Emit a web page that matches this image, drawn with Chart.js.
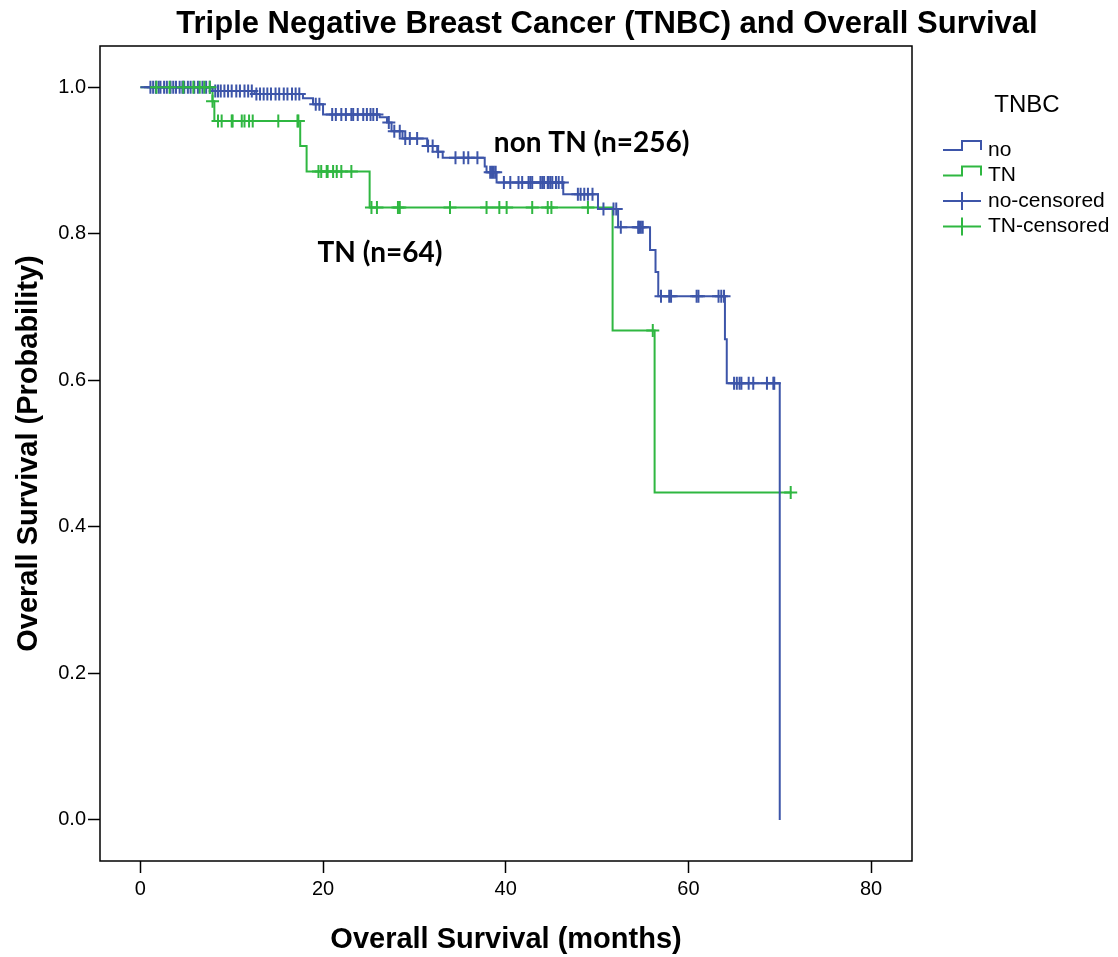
<!DOCTYPE html>
<html lang="en">
<head>
    <meta charset="UTF-8">
    <title>TNBC and Overall Survival</title>
    <script src="https://cdn.jsdelivr.net/npm/chart.js@4.4.1/dist/chart.umd.min.js"></script>
    <style>
        body{
            margin: 0;
            background: #fff;
        }
        #wrap{
            position: relative;
            width: 1118px;
            height: 957px;
        }
    </style>
</head>
<body>
<div id="wrap"><canvas id="kmChart"></canvas></div>
<script>
    // Kaplan-Meier steps: time of event (months) and survival after it
    var nonTnTime = [0, 7.9, 12.5, 17.8, 18.9, 20.0, 26.2, 27.0, 27.5, 28.7, 31.4, 32.5, 33.1, 37.7, 37.9, 39.0, 46.3, 50.1, 52.3, 55.8, 56.4, 56.7, 64.0, 64.2, 70.0];
    var nonTnSurv = [1.0, 0.995, 0.991, 0.985, 0.977, 0.963, 0.959, 0.952, 0.940, 0.930, 0.920, 0.912, 0.904, 0.892, 0.884, 0.870, 0.854, 0.834, 0.809, 0.778, 0.748, 0.715, 0.656, 0.596, 0.0];

    var tnTime = [0, 7.9, 8.1, 17.5, 18.2, 25.1, 51.7, 56.3, 71.3];
    var tnSurv = [1.0, 0.981, 0.954, 0.920, 0.885, 0.836, 0.668, 0.447, 0.447];

    // censored follow-up times (months)
    var nonTnCensored = [1.1, 1.4, 1.7, 2.0, 2.2, 2.6, 2.9, 3.3, 3.6, 3.9, 4.3, 4.6, 4.8, 5.2, 5.5, 5.9, 6.3, 6.8, 7.2, 7.6,
        8.2, 8.5, 8.8, 9.2, 9.6, 10.0, 10.5, 10.9, 11.4, 11.8, 12.2,
        12.7, 13.1, 13.5, 13.9, 14.3, 14.8, 15.2, 15.7, 16.1, 16.6, 17.0, 17.4,
        19.2, 19.6,
        21.0, 21.4, 22.0, 22.5, 23.1, 23.3, 23.8, 24.4, 24.8, 25.2, 25.5, 25.9,
        27.2, 27.8, 28.4, 29.0, 29.5, 30.3, 31.5, 32.0, 32.6,
        34.5, 35.4, 35.9, 36.9, 38.3, 38.5, 38.7, 38.9,
        39.8, 40.5, 41.4, 41.8, 42.5, 42.7, 42.9, 43.8, 44.0, 44.2, 44.6, 44.7, 44.9, 45.1, 45.5, 45.8, 46.2,
        47.9, 48.2, 48.6, 49.0, 49.5, 50.7, 51.8, 52.1,
        52.6, 54.5, 54.6, 54.8, 55.0,
        57.0, 57.9, 58.1, 60.9, 61.1, 63.3, 63.6, 63.9,
        65.0, 65.3, 65.6, 65.8, 66.6, 67.1, 68.6, 69.3, 69.4];
    var tnCensored = [1.75, 3.2, 4.7, 5.8, 6.5, 7.0, 7.6, 7.9,
        8.5, 8.9, 10.0, 10.1, 11.1, 11.4, 11.9, 12.3, 15.1, 17.2, 17.3,
        19.5, 19.8, 20.4, 20.5, 21.1, 21.5, 22.0, 23.1,
        25.3, 25.9, 28.2, 28.4, 33.9, 37.9, 39.3, 40.1, 42.9, 44.6, 45.0, 49.0,
        56.1, 71.2];

    var xTicks = [0, 20, 40, 60, 80];
    var yTicks = [0.0, 0.2, 0.4, 0.6, 0.8, 1.0];

    var blue = '#3d55a9';
    var green = '#2fb741';
    var fontFamily = "Arial, 'Liberation Sans', sans-serif";

    function toPoints(times, surv) {
        return times.map(function(t, i) { return {x: t, y: surv[i]}; });
    }

    // survival value of a curve at time t
    function survAt(times, surv, t) {
        var s = surv[0];
        for (var i = 0; i < times.length; i++) {
            if (times[i] <= t) s = surv[i];
        }
        return s;
    }

    function censorPoints(list, times, surv) {
        return list.map(function(t) { return {x: t, y: survAt(times, surv, t)}; });
    }

    // black box round the plot area
    var frame = {
        id: 'frame',
        afterDraw: function(chart) {
            var a = chart.chartArea, ctx = chart.ctx;
            ctx.save();
            ctx.strokeStyle = '#000';
            ctx.lineWidth = 1.5;
            ctx.strokeRect(a.left, a.top, a.right - a.left, a.bottom - a.top);
            ctx.restore();
        }
    };

    var heading = {
        id: 'heading',
        afterDraw: function(chart) {
            var ctx = chart.ctx;
            ctx.save();
            ctx.fillStyle = '#000';
            ctx.font = 'bold 31px ' + fontFamily;
            ctx.textAlign = 'center';
            ctx.textBaseline = 'middle';
            ctx.fillText('Triple Negative Breast Cancer (TNBC) and Overall Survival', 607, 24);
            ctx.restore();
        }
    };

    // group labels placed in data coordinates
    var groupLabels = {
        id: 'groupLabels',
        afterDraw: function(chart) {
            var ctx = chart.ctx, xs = chart.scales.x, ys = chart.scales.y;
            var items = [
                {text: 'non TN (n=256)', x: 38.7, y: 0.924},
                {text: 'TN (n=64)', x: 19.4, y: 0.774}
            ];
            ctx.save();
            ctx.fillStyle = '#000';
            ctx.font = "bold 28px Lato, 'Open Sans', sans-serif";
            ctx.textBaseline = 'middle';
            items.forEach(function(it) {
                ctx.fillText(it.text, xs.getPixelForValue(it.x), ys.getPixelForValue(it.y));
            });
            ctx.restore();
        }
    };

    var sideLegend = {
        id: 'sideLegend',
        afterDraw: function(chart) {
            var ctx = chart.ctx;
            var left = 943, textX = 988, rowY = 150, step = 25.5;
            ctx.save();
            ctx.fillStyle = '#000';
            ctx.font = '24px ' + fontFamily;
            ctx.textAlign = 'center';
            ctx.textBaseline = 'middle';
            ctx.fillText('TNBC', 1027, 105);
            ctx.font = '21px ' + fontFamily;
            ctx.textAlign = 'left';
            chart.data.datasets.forEach(function(ds, i) {
                var y = rowY + i * step;
                ctx.strokeStyle = ds.borderColor;
                ctx.lineWidth = 2;
                ctx.beginPath();
                if (ds.showLine) {
                    ctx.moveTo(left, y);
                    ctx.lineTo(left + 19, y);
                    ctx.lineTo(left + 19, y - 9);
                    ctx.lineTo(left + 38, y - 9);
                    ctx.lineTo(left + 38, y);
                } else {
                    ctx.moveTo(left, y);
                    ctx.lineTo(left + 38, y);
                    ctx.moveTo(left + 19, y - 9);
                    ctx.lineTo(left + 19, y + 9);
                }
                ctx.stroke();
                ctx.fillStyle = '#000';
                ctx.fillText(ds.label, textX, y);
            });
            ctx.restore();
        }
    };

    var ctx = document.getElementById('kmChart').getContext('2d');
    var myChart = new Chart(ctx, {
        type: 'scatter',
        data: {
            datasets: [{
                label: 'no',
                data: toPoints(nonTnTime, nonTnSurv),
                showLine: true,
                stepped: 'before',
                borderColor: blue,
                borderWidth: 2,
                pointRadius: 0,
                order: 2
            }, {
                label: 'TN',
                data: toPoints(tnTime, tnSurv),
                showLine: true,
                stepped: 'before',
                borderColor: green,
                borderWidth: 2,
                pointRadius: 0,
                order: 3
            }, {
                label: 'no-censored',
                data: censorPoints(nonTnCensored, nonTnTime, nonTnSurv),
                showLine: false,
                borderColor: blue,
                pointStyle: 'cross',
                pointRadius: 6.5,
                pointBorderWidth: 2,
                order: 1
            }, {
                label: 'TN-censored',
                data: censorPoints(tnCensored, tnTime, tnSurv),
                showLine: false,
                borderColor: green,
                pointStyle: 'cross',
                pointRadius: 6.5,
                pointBorderWidth: 2,
                order: 0
            }]
        },
        options: {
            responsive: true,
            maintainAspectRatio: false,
            animation: false,
            layout: {
                padding: {top: 46, right: 206, left: 0, bottom: 0}
            },
            scales: {
                x: {
                    type: 'linear',
                    min: -4.42,
                    max: 84.48,
                    afterBuildTicks: function(axis) {
                        axis.ticks = xTicks.map(function(v) { return {value: v}; });
                    },
                    afterFit: function(axis) { axis.height = 96; },
                    ticks: {
                        color: '#000',
                        font: {family: fontFamily, size: 20},
                        padding: 4
                    },
                    grid: {
                        drawOnChartArea: false,
                        tickLength: 12,
                        tickColor: '#000',
                        tickWidth: 1.5
                    },
                    border: {display: false},
                    title: {
                        display: true,
                        text: 'Overall Survival (months)',
                        color: '#000',
                        font: {family: fontFamily, size: 29, weight: 'bold'},
                        padding: {top: 0, bottom: 0}
                    }
                },
                y: {
                    min: -0.056,
                    max: 1.0564,
                    afterBuildTicks: function(axis) {
                        axis.ticks = yTicks.map(function(v) { return {value: v}; });
                    },
                    afterFit: function(axis) { axis.width = 100; },
                    ticks: {
                        color: '#000',
                        font: {family: fontFamily, size: 20},
                        padding: 2,
                        callback: function(v) { return v.toFixed(1); }
                    },
                    grid: {
                        drawOnChartArea: false,
                        tickLength: 12,
                        tickColor: '#000',
                        tickWidth: 1.5
                    },
                    border: {display: false},
                    title: {
                        display: true,
                        text: 'Overall Survival (Probability)',
                        color: '#000',
                        font: {family: fontFamily, size: 29, weight: 'bold'},
                        padding: {top: 12, bottom: 12}
                    }
                }
            },
            plugins: {
                legend: false,
                tooltip: {enabled: false}
            }
        },
        plugins: [frame, heading, groupLabels, sideLegend]
    });
</script>
</body>
</html>
